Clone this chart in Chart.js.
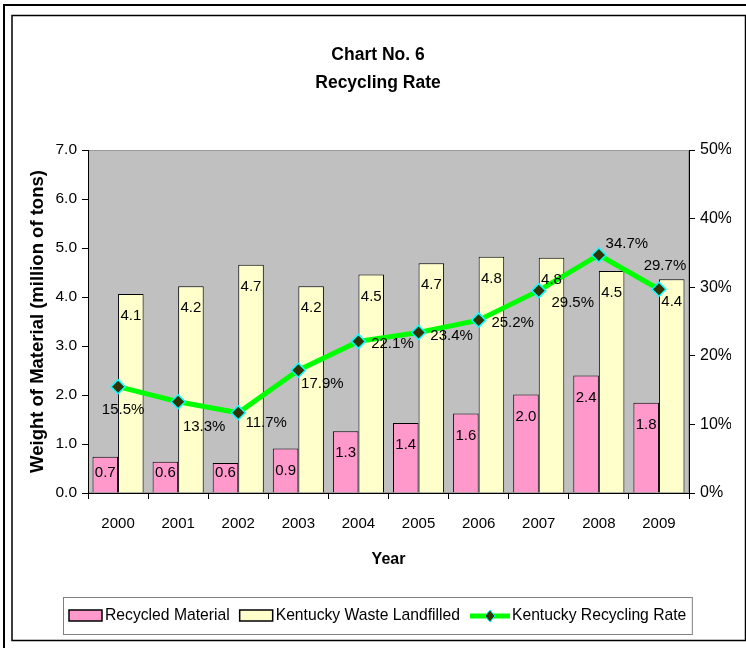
<!DOCTYPE html>
<html>
<head>
<meta charset="utf-8">
<script src="https://cdn.jsdelivr.net/npm/chart.js@4.4.0/dist/chart.umd.min.js"></script>
<style>
  html, body { margin: 0; padding: 0; background: #fff; }
  #wrap { width: 746px; height: 648px; position: relative; }
</style>
</head>
<body>
<div id="wrap"><canvas id="myChart"></canvas></div>
<script>
// values
const years = ['2000', '2001', '2002', '2003', '2004', '2005', '2006', '2007', '2008', '2009']
const recycledMaterial = [0.74, 0.64, 0.61, 0.91, 1.26, 1.43, 1.62, 2.01, 2.40, 1.84]
const wasteLandfilled = [4.06, 4.22, 4.66, 4.22, 4.46, 4.69, 4.82, 4.80, 4.53, 4.36]
const recyclingRate = [15.5, 13.3, 11.7, 17.9, 22.1, 23.4, 25.2, 29.5, 34.7, 29.7]

const FONT = "'Liberation Sans', Arial, sans-serif"

// where each rate label sits relative to its point
const rateLabelOffsets = [[5, 23], [26, 25], [28, 10], [24, 14], [34, 2], [33, 3], [34, 3], [34, 12], [28, -11], [6, -23]]

const canvas = document.getElementById('myChart')

// frames + grey plot background
const background = {
    id: 'background',
    beforeDraw(chart) {
        const {ctx, chartArea: a} = chart
        ctx.save()
        ctx.strokeStyle = '#000'
        ctx.lineWidth = 2
        ctx.strokeRect(4, 5, 800, 800)
        ctx.lineWidth = 1.5
        ctx.strokeRect(12, 15.5, 733.5, 625)
        ctx.fillStyle = '#c0c0c0'
        ctx.fillRect(a.left, a.top, a.right - a.left, a.bottom - a.top)
        ctx.strokeStyle = '#9a9a9a'
        ctx.lineWidth = 1
        ctx.strokeRect(a.left + 0.5, a.top + 0.5, a.right - a.left - 1, a.bottom - a.top - 1)
        ctx.restore()
    }
}

// value labels on bars and points
const valueLabels = {
    id: 'valueLabels',
    afterDatasetsDraw(chart) {
        const ctx = chart.ctx
        ctx.save()
        ctx.font = '15px ' + FONT
        ctx.fillStyle = '#000'
        ctx.textAlign = 'center'
        ctx.textBaseline = 'middle'
        chart.data.datasets.forEach((ds, di) => {
            const meta = chart.getDatasetMeta(di)
            meta.data.forEach((el, i) => {
                const v = ds.data[i]
                if (ds.type === 'line') {
                    const [dx, dy] = rateLabelOffsets[i]
                    ctx.fillText(v.toFixed(1) + '%', el.x + dx, el.y + dy)
                } else {
                    const y = Math.min(el.y + 22, el.base - 20)
                    ctx.fillText(v.toFixed(1), el.x, y)
                }
            })
        })
        ctx.restore()
    }
}

// boxed legend at the bottom
const boxLegend = {
    id: 'boxLegend',
    afterDraw(chart) {
        const ctx = chart.ctx
        const cy = 616
        ctx.save()
        ctx.font = '15.7px ' + FONT
        ctx.textBaseline = 'middle'
        ctx.textAlign = 'left'
        let x = 69
        chart.data.datasets.forEach(ds => {
            if (ds.type === 'line') {
                ctx.strokeStyle = ds.borderColor
                ctx.lineWidth = 5
                ctx.beginPath()
                ctx.moveTo(x, cy)
                ctx.lineTo(x + 40, cy)
                ctx.stroke()
                ctx.beginPath()
                ctx.moveTo(x + 20, cy - 6)
                ctx.lineTo(x + 25, cy)
                ctx.lineTo(x + 20, cy + 6)
                ctx.lineTo(x + 15, cy)
                ctx.closePath()
                ctx.fillStyle = ds.pointBackgroundColor
                ctx.fill()
                ctx.strokeStyle = ds.pointBorderColor
                ctx.lineWidth = 1
                ctx.stroke()
                x += 42
            } else {
                ctx.fillStyle = ds.backgroundColor
                ctx.fillRect(x, cy - 6, 33, 11)
                ctx.strokeStyle = '#000'
                ctx.lineWidth = 1.5
                ctx.strokeRect(x, cy - 6, 33, 11)
                x += 36
            }
            ctx.fillStyle = '#000'
            ctx.fillText(ds.label, x, cy)
            x += ctx.measureText(ds.label).width + 10
        })
        ctx.strokeStyle = '#808080'
        ctx.lineWidth = 1
        ctx.strokeRect(63.5, 597.5, x - 10 + 6 - 63.5, 37)
        ctx.restore()
    }
}

const config = {
    type: 'bar',
    data: {
        labels: years,
        datasets: [
            {
                label: 'Recycled Material',
                data: recycledMaterial,
                backgroundColor: '#ff99cc',
                borderColor: '#000',
                borderWidth: 1,
                yAxisID: 'y',
                order: 1
            },
            {
                label: 'Kentucky Waste Landfilled',
                data: wasteLandfilled,
                backgroundColor: '#ffffcc',
                borderColor: '#000',
                borderWidth: 1,
                yAxisID: 'y',
                order: 1
            },
            {
                type: 'line',
                label: 'Kentucky Recycling Rate',
                data: recyclingRate,
                borderColor: '#00ff00',
                borderWidth: 5,
                pointStyle: 'rectRot',
                pointRadius: 7,
                pointBackgroundColor: '#333300',
                pointBorderColor: '#00ffff',
                pointBorderWidth: 1.5,
                tension: 0,
                yAxisID: 'y1',
                order: 0
            }
        ]
    },
    options: {
        responsive: true,
        maintainAspectRatio: false,
        animation: false,
        layout: {
            padding: {left: 25, right: 15, top: 0, bottom: 68}
        },
        datasets: {
            bar: {categoryPercentage: 0.85, barPercentage: 1}
        },
        plugins: {
            legend: {display: false},
            tooltip: {enabled: false},
            title: {
                display: true,
                text: ['Chart No. 6', 'Recycling Rate'],
                color: '#000',
                font: {family: FONT, size: 17.5, weight: 'bold', lineHeight: 1.6},
                padding: {top: 41, bottom: 53}
            }
        },
        scales: {
            x: {
                grid: {offset: true, drawOnChartArea: false, drawTicks: true, tickLength: 6, color: '#000'},
                border: {color: '#000', width: 1},
                ticks: {color: '#000', font: {family: FONT, size: 15}, padding: 16, maxRotation: 0},
                title: {
                    display: true, text: 'Year', color: '#000',
                    font: {family: FONT, size: 16, weight: 'bold'},
                    padding: {top: 0, bottom: 10.4}
                },
                afterFit: s => { s.height = 87 }
            },
            y: {
                position: 'left',
                min: 0,
                max: 7,
                grid: {drawOnChartArea: false, tickLength: 6, color: '#000'},
                border: {color: '#000', width: 1},
                ticks: {stepSize: 1, color: '#000', font: {family: FONT, size: 15.5}, padding: 5,
                    callback: v => v.toFixed(1)},
                title: {
                    display: true, text: 'Weight of Material (million of tons)', color: '#000',
                    font: {family: FONT, size: 18.5, weight: 'bold'},
                    padding: {top: 2, bottom: 0}
                },
                afterFit: s => { s.width = 63 }
            },
            y1: {
                position: 'right',
                min: 0,
                max: 50,
                grid: {drawOnChartArea: false, tickLength: 6, color: '#000'},
                border: {color: '#000', width: 1},
                ticks: {stepSize: 10, color: '#000', font: {family: FONT, size: 16}, padding: 5,
                    callback: v => v + '%'},
                afterFit: s => { s.width = 42 }
            }
        }
    },
    plugins: [background, valueLabels, boxLegend]
}

new Chart(canvas, config)
</script>
</body>
</html>
